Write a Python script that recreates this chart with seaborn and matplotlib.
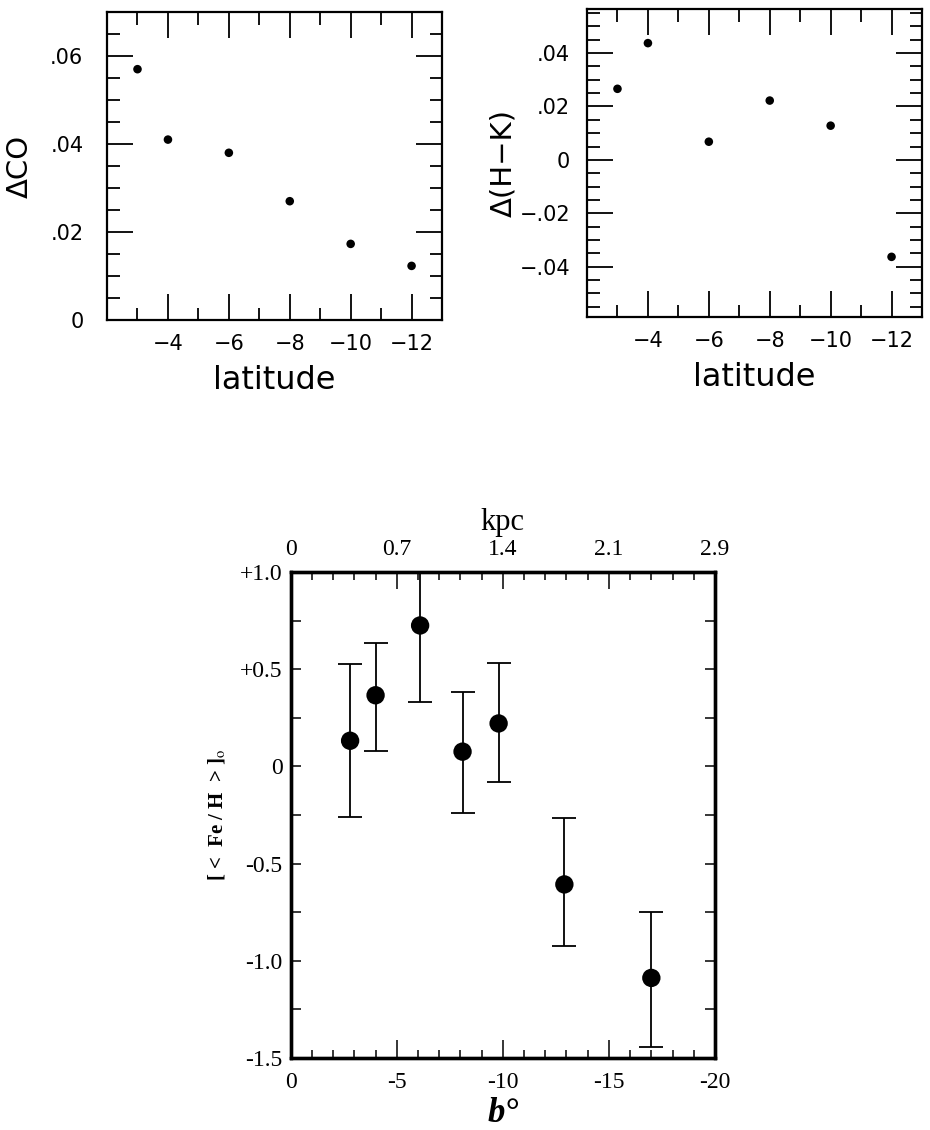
import numpy as np
import pandas as pd
import matplotlib
matplotlib.use("Agg")
import matplotlib.pyplot as plt
from matplotlib.ticker import FixedLocator
import seaborn as sns

# --- top panels: strip averages vs latitude
latitude = [-3, -4, -6, -8, -10, -12]
delta_co = [0.057, 0.041, 0.038, 0.027, 0.0173, 0.0123]
delta_hk = [0.0266, 0.0437, 0.0068, 0.0222, 0.0128, -0.0363]

lat_ticks = [-4, -6, -8, -10, -12]
lat_minor = [-3, -5, -7, -9, -11]
co_ticks = [0, 0.02, 0.04, 0.06]
co_labels = ["0", ".02", ".04", ".06"]
hk_ticks = [-0.04, -0.02, 0, 0.02, 0.04]
hk_labels = ["\u2212.04", "\u2212.02", "0", ".02", ".04"]

# --- bottom panel: mean metallicity vs b
b_deg = [-2.8, -4.0, -6.1, -8.1, -9.8, -12.9, -17.0]
fe_h = [0.132, 0.366, 0.725, 0.076, 0.221, -0.607, -1.088]
err_lo = [0.392, 0.285, 0.396, 0.318, 0.302, 0.317, 0.355]
err_hi = [0.397, 0.270, 0.396, 0.306, 0.310, 0.340, 0.337]

b_ticks = [0, -5, -10, -15, -20]
b_labels = ["0", "-5", "-10", "-15", "-20"]
kpc_labels = ["0", "0.7", "1.4", "2.1", "2.9"]
fe_ticks = [1.0, 0.5, 0, -0.5, -1.0, -1.5]
fe_labels = ["+1.0", "+0.5", "0", "-0.5", "-1.0", "-1.5"]

sns.set_style("ticks")
plt.rcParams["font.family"] = ["DejaVu Sans"]
plt.rcParams["mathtext.fontset"] = "stix"
for key in ["text.color", "axes.labelcolor", "xtick.color", "ytick.color",
            "axes.edgecolor"]:
    plt.rcParams[key] = "black"

top = pd.DataFrame({"lat": latitude, "co": delta_co, "hk": delta_hk})
bot = pd.DataFrame({"b": b_deg, "feh": fe_h})

fig = plt.figure(figsize=(9.3, 11.3), dpi=100)
fig.patch.set_facecolor("white")


def style_top(ax, ypad):
    for s in ax.spines.values():
        s.set_linewidth(1.6)
        s.set_color("black")
        s.set_visible(True)
    ax.tick_params(which="both", direction="in", top=True, right=True,
                   width=1.3, color="black", labelsize=15)
    ax.tick_params(which="major", length=19)
    ax.tick_params(which="minor", length=9)
    ax.tick_params(axis="x", pad=10)
    ax.tick_params(axis="y", pad=ypad)
    ax.set_xlim(-2, -13)
    ax.set_xticks(lat_ticks)
    ax.xaxis.set_minor_locator(FixedLocator(lat_minor))
    ax.set_facecolor("white")


# Delta CO
ax1 = fig.add_axes([0.1151, 0.7168, 0.3602, 0.2726])
sns.scatterplot(data=top, x="lat", y="co", ax=ax1, color="black", s=38,
                edgecolor="none")
style_top(ax1, 17)
ax1.set_ylim(0, 0.07)
ax1.set_yticks(co_ticks)
ax1.set_yticklabels(co_labels)
ax1.yaxis.set_minor_locator(FixedLocator(np.arange(0.005, 0.07, 0.005)))
ax1.set_xlabel("latitude", fontsize=23, labelpad=8)
ax1.set_ylabel("\u0394CO", fontsize=21, labelpad=12)

# Delta (H-K)
ax2 = fig.add_axes([0.6312, 0.7195, 0.3602, 0.2726])
sns.scatterplot(data=top, x="lat", y="hk", ax=ax2, color="black", s=38,
                edgecolor="none")
style_top(ax2, 12)
ax2.set_ylim(-0.0588, 0.0565)
ax2.set_yticks(hk_ticks)
ax2.set_yticklabels(hk_labels)
ax2.yaxis.set_minor_locator(FixedLocator(np.arange(-0.055, 0.056, 0.005)))
ax2.set_xlabel("latitude", fontsize=23, labelpad=8)
ax2.set_ylabel("\u0394(H\u2212K)", fontsize=21, labelpad=2)

# [<Fe/H>] vs b
ax3 = fig.add_axes([0.3126, 0.0637, 0.4562, 0.4301])
ax3.errorbar(b_deg, fe_h, yerr=[err_lo, err_hi], fmt="none", ecolor="black",
             elinewidth=1.3, capsize=8.5, capthick=1.3)
sns.scatterplot(data=bot, x="b", y="feh", ax=ax3, color="black", s=175,
                edgecolor="none", zorder=3)
ax3.set_xlim(0, -20)
ax3.set_ylim(-1.5, 1.0)
ax3.set_xticks(b_ticks)
ax3.set_xticklabels(b_labels, family="Liberation Serif", fontsize=17)
ax3.set_yticks(fe_ticks)
ax3.set_yticklabels(fe_labels, family="Liberation Serif", fontsize=17)
ax3.xaxis.set_minor_locator(FixedLocator(np.arange(-19, 0, 1)))
ax3.yaxis.set_minor_locator(FixedLocator([0.75, 0.25, -0.25, -0.75, -1.25]))
ax3.tick_params(which="both", direction="in", right=True, width=1.1,
                color="black")
ax3.tick_params(axis="x", which="major", length=13, pad=10)
ax3.tick_params(axis="x", which="minor", length=6)
ax3.tick_params(axis="y", which="both", length=7, pad=6)
ax3.set_xlabel("b\u00b0", fontsize=25, family="Liberation Serif",
               fontweight="bold", style="italic", labelpad=3)
ax3.set_ylabel("[ <  Fe / H  > ]$_{\\rm o}$", fontsize=15,
               family="Liberation Serif", fontweight="bold", labelpad=8)

# kpc scale on top
ax4 = ax3.twiny()
ax4.set_xlim(ax3.get_xlim())
ax4.set_xticks(b_ticks)
ax4.set_xticklabels(kpc_labels, family="Liberation Serif", fontsize=17)
ax4.xaxis.set_minor_locator(FixedLocator(np.arange(-19, 0, 1)))
ax4.tick_params(which="both", direction="in", width=1.1, color="black")
ax4.tick_params(which="major", length=12, pad=9)
ax4.tick_params(which="minor", length=6)
ax4.set_xlabel("kpc", fontsize=22, family="Liberation Serif", labelpad=6)
for a in (ax3, ax4):
    for s in a.spines.values():
        s.set_linewidth(2.4)
        s.set_color("black")

plt.savefig("out.png", dpi=100, facecolor="white")
